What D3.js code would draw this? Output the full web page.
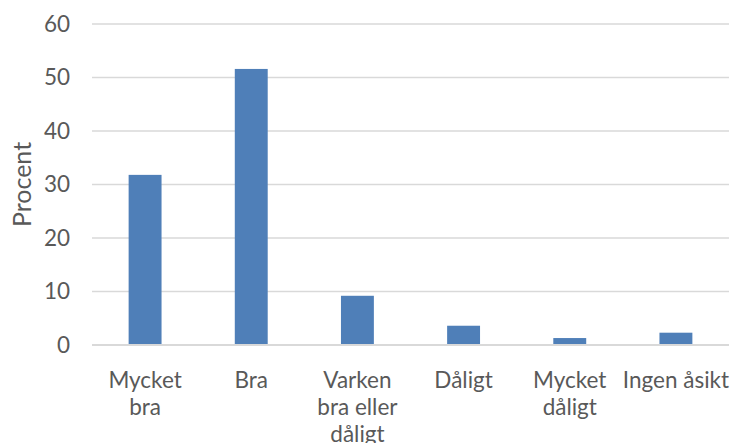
<!DOCTYPE html>
<html>
<head>
<meta charset="utf-8">
<script src="https://cdn.jsdelivr.net/npm/d3@7"></script>
<style>
  html, body { margin: 0; padding: 0; background: #fff; }
  svg { display: block; }
  text { font-family: Lato, "Open Sans", sans-serif; fill: #595959; }
</style>
</head>
<body>
<svg id="chart" width="731" height="443"></svg>
<script>
const categories = ["Mycket bra", "Bra", "Varken bra eller dåligt", "Dåligt", "Mycket dåligt", "Ingen åsikt"];
const tickLabels = [["Mycket", "bra"], ["Bra"], ["Varken", "bra eller", "dåligt"], ["Dåligt"], ["Mycket", "dåligt"], ["Ingen åsikt"]];
const values = [31.8, 51.6, 9.2, 3.6, 1.3, 2.3];
const yTicks = [0, 10, 20, 30, 40, 50, 60];
const yTitle = "Procent";

const FONT = 'Lato, "Open Sans", sans-serif';
const FS = 22.5;

const svg = d3.select("#chart");
const margin = { left: 92, right: 2, top: 24, bottom: 98 };
const W = 731, H = 443;

const x = d3.scaleBand().domain(categories)
  .range([margin.left, W - margin.right])
  .paddingInner(0.69).paddingOuter(0.345);
const y = d3.scaleLinear().domain([0, 60]).range([H - margin.bottom, margin.top]);

// gridlines
svg.append("g").selectAll("line").data(yTicks.filter(d => d !== 0)).join("line")
  .attr("x1", margin.left).attr("x2", W - margin.right)
  .attr("y1", d => y(d)).attr("y2", d => y(d))
  .attr("stroke", "#d9d9d9").attr("stroke-width", 1.3);

// bars
svg.append("g").selectAll("rect").data(values).join("rect")
  .attr("x", (d, i) => x(categories[i]))
  .attr("width", x.bandwidth())
  .attr("y", d => y(d))
  .attr("height", d => y(0) - y(d))
  .attr("fill", "#4f7fb8");

// baseline
svg.append("line")
  .attr("x1", margin.left).attr("x2", W - margin.right)
  .attr("y1", y(0)).attr("y2", y(0))
  .attr("stroke", "#d9d9d9").attr("stroke-width", 2);

// y axis labels
const yAxis = d3.axisLeft(y).tickValues(yTicks).tickSize(0).tickPadding(0);
const gy = svg.append("g").attr("transform", `translate(${70},0)`).call(yAxis);
gy.select(".domain").remove();
gy.selectAll("text").attr("font-size", FS).attr("fill", "#595959")
  .style("font-family", FONT);

// x axis labels
const xAxis = d3.axisBottom(x).tickSize(0).tickFormat("");
const gx = svg.append("g").attr("transform", `translate(0,${y(0)})`).call(xAxis);
gx.select(".domain").remove();
gx.selectAll(".tick").each(function(d, i) {
  const t = d3.select(this).append("text")
    .attr("text-anchor", "middle")
    .attr("font-size", FS)
    .attr("fill", "#595959")
    .style("font-family", FONT);
  tickLabels[i].forEach((line, j) => {
    t.append("tspan").attr("x", 0).attr("y", 43 + j * 27).text(line);
  });
});

// y title
svg.append("text")
  .attr("transform", `translate(31,${(y(0) + y(60)) / 2}) rotate(-90)`)
  .attr("text-anchor", "middle")
  .attr("font-size", 25)
  .style("font-family", FONT)
  .text(yTitle);
</script>
</body>
</html>
